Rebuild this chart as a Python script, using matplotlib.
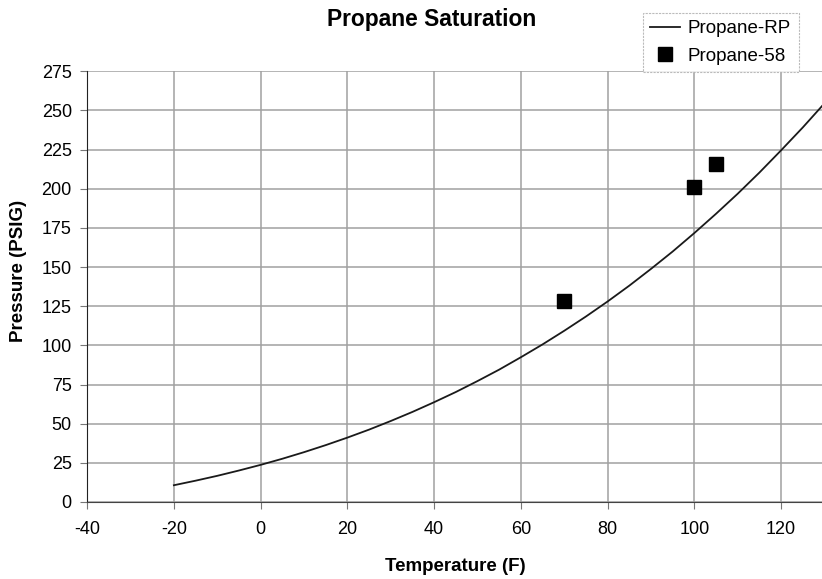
import numpy as np
import matplotlib.pyplot as plt

plt.rcParams['font.family'] = ['Liberation Sans', 'DejaVu Sans']
plt.rcParams['axes.unicode_minus'] = False

# saturation curve (Propane-RP)
rp_temp = [-20, -15, -10, -5, 0, 5, 10, 15, 20, 25, 30, 35, 40, 45, 50, 55, 60,
           65, 70, 75, 80, 85, 90, 95, 100, 105, 110, 115, 120, 125, 130]
rp_press = [10.7, 13.6, 16.7, 20.1, 23.7, 27.6, 31.8, 36.3, 41.1, 46.2, 51.7, 57.5,
            63.7, 70.2, 77.2, 84.5, 92.4, 100.6, 109.3, 118.4, 128.0, 138.1, 148.8,
            159.9, 171.7, 184.0, 196.8, 210.3, 224.5, 239.1, 254.5]

# measured points (Propane-58)
p58_temp = [70, 100, 105]
p58_press = [128, 201, 216]

xticks = list(range(-40, 121, 20))
yticks = list(range(0, 276, 25))

fig = plt.figure(figsize=(8.22, 5.79), dpi=100)
ax = fig.add_axes([0.106, 0.133, 0.897, 0.744])

ax.grid(True, color='#a0a0a0', linewidth=1.1)
ax.set_axisbelow(True)

ax.plot(rp_temp, rp_press, color='#1a1a1a', linewidth=1.3, label='Propane-RP')
ax.plot(p58_temp, p58_press, linestyle='none', marker='s', markersize=9.5,
        color='black', label='Propane-58')

ax.set_xlim(-40, 130)
ax.set_ylim(0, 275)
ax.set_xticks(xticks)
ax.set_yticks(yticks)
ax.tick_params(axis='both', labelsize=13, length=5, width=0.8, color='#777777')
ax.tick_params(axis='x', pad=9)
ax.tick_params(axis='y', pad=6)

for side in ['top', 'right']:
    ax.spines[side].set_visible(False)
ax.spines['left'].set_color('#222222')
ax.spines['bottom'].set_color('#444444')

ax.set_xlabel('Temperature (F)', fontsize=13.5, fontweight='bold', labelpad=14)
ax.set_ylabel('Pressure (PSIG)', fontsize=13.5, fontweight='bold')
ax.yaxis.set_label_coords(-0.081, 0.536)
fig.text(0.525, 0.967, 'Propane Saturation', ha='center', va='center',
         fontsize=16.4, fontweight='bold')

leg = ax.legend(loc='lower right', bbox_to_anchor=(0.965, 0.998), fontsize=13.5,
                frameon=True, fancybox=False, handlelength=1.6, borderaxespad=0,
                borderpad=0.4, labelspacing=0.55, handletextpad=0.4)
leg.get_frame().set_edgecolor('#aaaaaa')
leg.get_frame().set_linestyle((0, (2, 1)))
leg.get_frame().set_linewidth(0.8)

fig.savefig('out.png', dpi=100)
